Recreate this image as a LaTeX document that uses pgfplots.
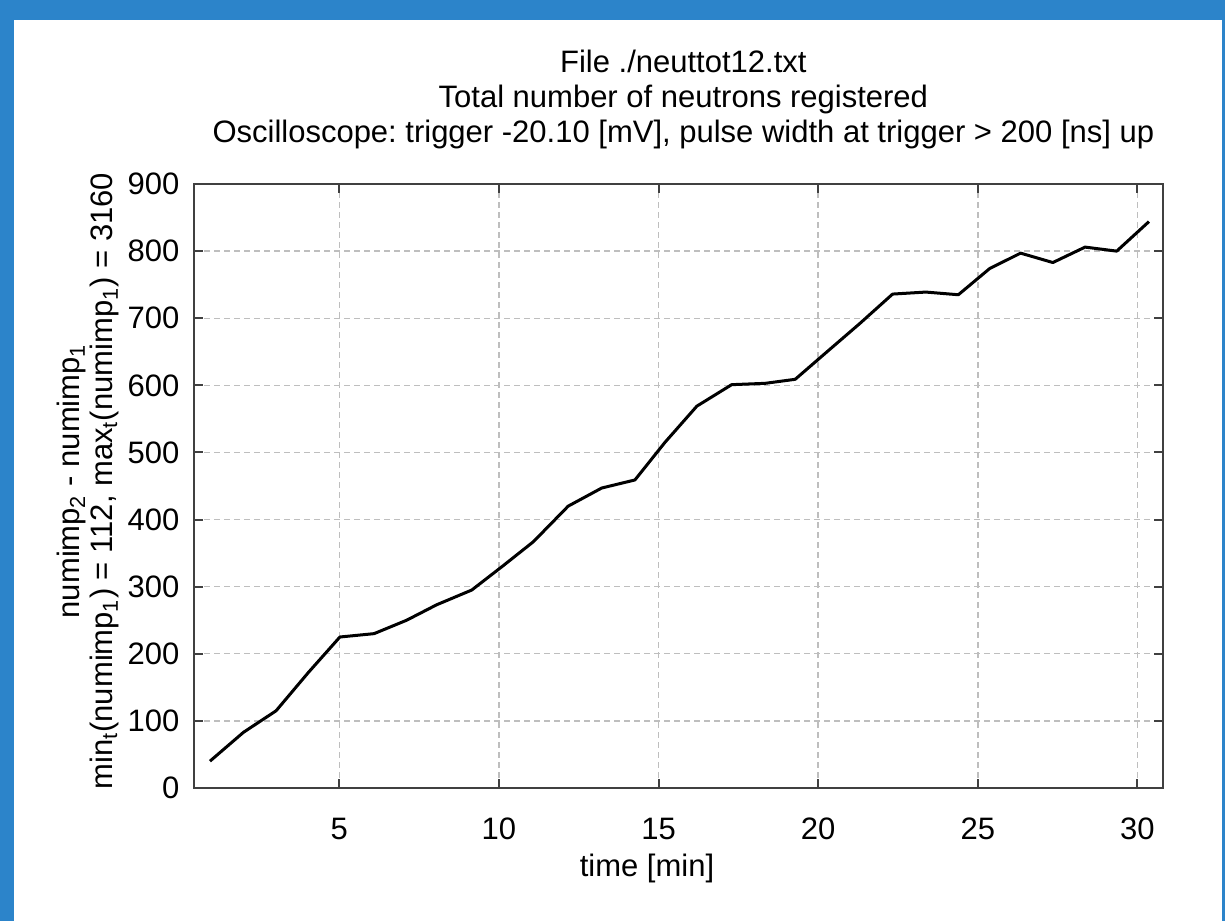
\documentclass[border=0pt]{standalone}
\usepackage{pgfplots}
\pgfplotsset{compat=1.18}
\usepackage{fontspec}
\setmainfont{Liberation Sans}
\frenchspacing
\definecolor{slideblue}{RGB}{44,132,202}
\definecolor{axisgray}{RGB}{64,64,64}
\definecolor{gridgray}{RGB}{190,190,190}
\begin{document}
\begin{tikzpicture}
\fill[slideblue] (0,0) rectangle (612.5pt,460.5pt);
\fill[white] (7pt,0) rectangle (611pt,450.5pt);
\begin{axis}[
  at={(97pt,66.5pt)}, anchor=south west,
  scale only axis, width=484.5pt, height=302pt,
  xmin=0.45, xmax=30.8, ymin=0, ymax=900,
  xtick={5,10,15,20,25,30},
  ytick={0,100,200,300,400,500,600,700,800,900},
  /pgf/number format/assume math mode=true,
  font=\fontsize{15.5}{17.5}\selectfont,
  tick label style={font=\fontsize{15.5}{17.5}\selectfont},
  xticklabel style={yshift=-11.5pt},
  yticklabel style={xshift=-3.8pt},
  axis line style={axisgray, line width=1pt},
  every tick/.style={axisgray, line width=1pt},
  major tick length=4.5pt,
  grid=major,
  major grid style={gridgray, line width=0.7pt, dash pattern=on 3pt off 2pt},
  title={File ./neuttot12.txt\\Total number of neutrons registered\\Oscilloscope: trigger -20.10 [mV], pulse width at trigger > 200 [ns] up},
  title style={at={(axis description cs:0.505,1)}, anchor=south, yshift=11.2pt, align=center, inner sep=0pt, font=\fontsize{15.5}{17.5}\selectfont},
  xlabel={time [min]},
  xlabel style={at={(axis description cs:0.4675,0)}, anchor=base, yshift=-44pt, inner sep=0pt},
  ylabel={numimp\textsubscript{2} - numimp\textsubscript{1}\\min\textsubscript{t}(numimp\textsubscript{1}) = 112, max\textsubscript{t}(numimp\textsubscript{1}) = 3160},
  ylabel style={at={(axis description cs:-0.109,0.508)}, anchor=center, align=center, font=\fontsize{15.5}{16.5}\selectfont},
]
\addplot[black, line width=1.5pt, line join=round, mark=none] table {
x y
0.95 40
2.00 83
3.02 115
4.03 172
5.02 225
6.09 230
7.11 250
8.05 273
9.15 295
10.10 330
11.08 367
12.17 420
13.22 447
14.26 459
15.20 515
16.20 569
17.29 601
18.34 603
19.28 609
20.30 651
21.30 692
22.33 736
23.37 739
24.39 735
25.37 774
26.34 797
27.35 783
28.36 806
29.35 800
30.36 844
};
\end{axis}
\end{tikzpicture}
\end{document}
